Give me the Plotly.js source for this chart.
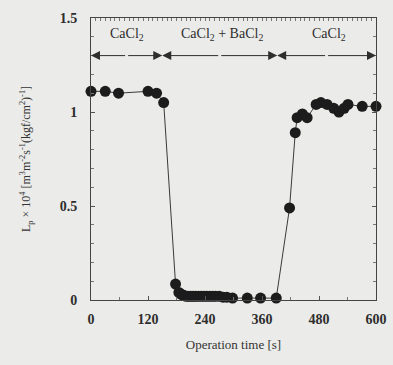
<!DOCTYPE html>
<html>
<head>
<meta charset="utf-8">
<script src="https://cdn.plot.ly/plotly-3.0.1.min.js"></script>
<style>
  html, body { margin: 0; padding: 0; background: #ebebe9; }
  #chart { width: 393px; height: 365px; }
</style>
</head>
<body>
<div id="chart"></div>
<script>
// Permeability Lp (x10^4) versus operation time, switching feed solutions
const timeSec = [0, 30, 58, 120, 138, 153, 178,
  185, 190, 195, 200, 205, 210, 215, 220, 226, 232, 238, 244, 250, 256, 262, 270, 278, 286,
  298, 329, 357, 390,
  418, 430, 434, 445, 455, 474, 484, 497, 511, 522, 533, 541, 571, 600];
const lpValue = [1.11, 1.11, 1.10, 1.11, 1.10, 1.05, 0.085,
  0.04, 0.03, 0.025, 0.02, 0.02, 0.02, 0.02, 0.02, 0.02, 0.02, 0.02, 0.02, 0.02, 0.02, 0.02, 0.02, 0.015, 0.015,
  0.01, 0.01, 0.01, 0.01,
  0.49, 0.89, 0.97, 0.99, 0.97, 1.04, 1.05, 1.04, 1.02, 1.00, 1.02, 1.04, 1.03, 1.03];

// Feed solution periods: [start, end] in seconds and their labels
const periodStart = [0, 150, 392];
const periodEnd = [150, 392, 600];
const periodLabel = ['CaCl<sub>2</sub>', 'CaCl<sub>2</sub> + BaCl<sub>2</sub>', 'CaCl<sub>2</sub>'];
const labelX = [76, 275, 501];

const xTicks = [0, 120, 240, 360, 480, 600];
const yTicks = [0, 0.5, 1, 1.5];
const yTickText = ['0', '0.5', '1', '1.5'];

const ink = '#2e2e2e';
const serif = 'Liberation Serif, Times New Roman, serif';

const arrowY = 1.30;
const labelY = 1.41;

const annotations = [];
for (let i = 0; i < periodStart.length; i++) {
  const mid = (periodStart[i] + periodEnd[i]) / 2;
  [periodStart[i], periodEnd[i]].forEach(function (end) {
    annotations.push({
      x: end, y: arrowY, ax: mid, ay: arrowY,
      xref: 'x', yref: 'y', axref: 'x', ayref: 'y',
      text: '', showarrow: true, arrowhead: 2, arrowsize: 1.8,
      arrowwidth: 1, arrowcolor: ink, standoff: 0
    });
  });
  annotations.push({
    x: labelX[i], y: labelY, xref: 'x', yref: 'y',
    text: periodLabel[i], showarrow: false,
    font: {family: serif, size: 14, color: ink}
  });
}

const data = [
  {
    x: timeSec, y: lpValue, type: 'scatter', mode: 'lines+markers',
    line: {color: '#3a3a3a', width: 1},
    marker: {color: '#1c1c1c', size: 11},
    cliponaxis: false, hoverinfo: 'skip', showlegend: false
  },
  {
    x: [0, 600], y: [0, 0], xaxis: 'x2', yaxis: 'y', type: 'scatter', mode: 'lines',
    line: {width: 0}, hoverinfo: 'skip', showlegend: false
  }
];

const layout = {
  width: 393, height: 365,
  margin: {l: 91, r: 17, t: 18, b: 65},
  paper_bgcolor: '#ebebe9',
  plot_bgcolor: '#ebebe9',
  font: {family: serif, color: ink},
  showlegend: false,
  xaxis: {
    range: [0, 600], tickvals: xTicks, ticktext: xTicks.map(String),
    ticks: 'inside', ticklen: 4, tickcolor: '#555', tickwidth: 1,
    minor: {dtick: 60, ticks: 'inside', ticklen: 3, tickcolor: '#777'},
    showline: true, linecolor: '#444', linewidth: 1, mirror: false,
    showgrid: false, zeroline: false, ticklabelstandoff: 6,
    tickfont: {family: serif, size: 14, color: ink, weight: 'bold'},
    title: {text: 'Operation time [s]', font: {family: serif, size: 13, color: '#333'}, standoff: 14}
  },
  xaxis2: {
    overlaying: 'x', side: 'top', range: [0, 600], matches: 'x',
    showticklabels: false, dtick: 10, ticks: 'inside', ticklen: 3,
    tickcolor: '#777', showline: true, linecolor: '#444', linewidth: 1,
    showgrid: false, zeroline: false
  },
  yaxis: {
    range: [0, 1.5], tickvals: yTicks, ticktext: yTickText,
    ticks: 'inside', ticklen: 4, tickcolor: '#555', tickwidth: 1,
    minor: {dtick: 0.1, ticks: 'inside', ticklen: 3, tickcolor: '#777'},
    showline: true, linecolor: '#444', linewidth: 1, mirror: 'ticks',
    showgrid: false, zeroline: false, ticklabelstandoff: 10,
    tickfont: {family: serif, size: 14, color: ink, weight: 'bold'},
    title: {
      text: 'L<sub>p</sub> × 10<sup>4</sup> [m<sup>3</sup>m<sup>-2</sup>s<sup>-1</sup>(kgf/cm<sup>2</sup>)<sup>-1</sup>]',
      font: {family: serif, size: 12, color: '#333'}, standoff: 26
    }
  },
  annotations: annotations
};

Plotly.newPlot('chart', data, layout, {displayModeBar: false, staticPlot: true});
</script>
</body>
</html>
